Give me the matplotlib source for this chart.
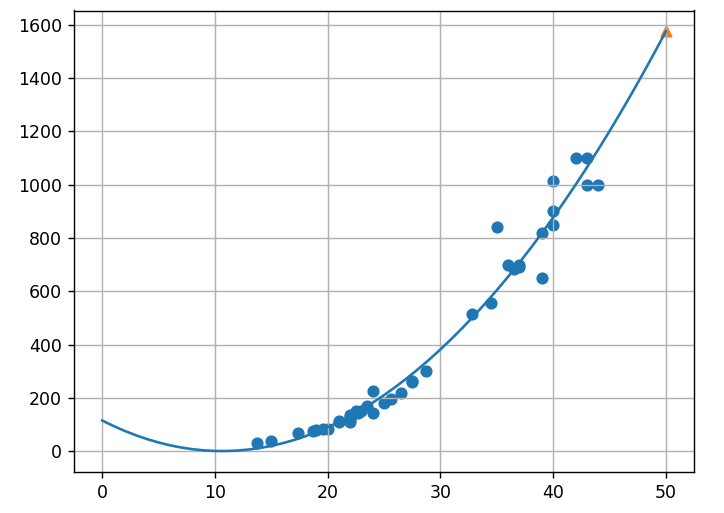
import numpy as np
import matplotlib
matplotlib.use("Agg")
import matplotlib.pyplot as plt

train_length = [13.7, 15.0, 17.4, 18.7, 19.0, 19.6, 20.0, 21.0, 21.0,
                22.0, 22.0, 22.0, 22.0, 22.0, 22.5, 22.7, 23.0, 23.5,
                24.0, 24.0, 25.0, 25.6, 26.5, 27.5, 27.5, 28.7, 32.8,
                34.5, 35.0, 36.5, 36.0, 37.0, 37.0, 39.0, 39.0, 40.0,
                40.0, 40.0, 42.0, 43.0, 43.0, 44.0]
train_weight = [32.0, 40.0, 70.0, 78.0, 80.0, 85.0, 85.0, 110.0, 115.0,
                120.0, 120.0, 130.0, 135.0, 110.0, 150.0, 145.0, 150.0, 170.0,
                225.0, 145.0, 180.0, 197.0, 218.0, 260.0, 265.0, 300.0, 514.0,
                556.0, 840.0, 685.0, 700.0, 700.0, 690.0, 650.0, 820.0, 850.0,
                900.0, 1015.0, 1100.0, 1000.0, 1100.0, 1000.0]

curve_start, curve_end = 0, 50
predict_length = 50

x = np.array(train_length)
y = np.array(train_weight)
coef = np.polyfit(x, y, 2)
point = np.arange(curve_start, curve_end + 1)
pred = np.polyval(coef, predict_length)

fig = plt.figure(figsize=(724 / 125, 513 / 125), dpi=125)
ax = fig.add_axes([74 / 724, 1 - 472 / 513, (694 - 74) / 724, (472 - 10.5) / 513])
ax.scatter(x, y)
ax.plot(point, np.polyval(coef, point))
ax.scatter([predict_length], [pred], marker='^')
ax.grid()
fig.savefig("out.png", dpi=125)
